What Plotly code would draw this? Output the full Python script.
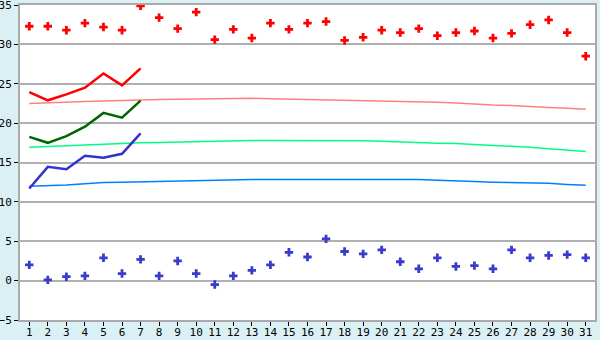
import plotly.graph_objects as go

days = list(range(1, 32))

max_temp = [32.3, 32.3, 31.8, 32.7, 32.2, 31.8, 34.9, 33.4, 32.0, 34.1,
            30.6, 31.9, 30.8, 32.7, 31.9, 32.7, 32.9, 30.5, 30.9, 31.8,
            31.5, 32.0, 31.1, 31.5, 31.7, 30.8, 31.4, 32.5, 33.1, 31.5, 28.5]
min_temp = [2.0, 0.1, 0.5, 0.6, 2.9, 0.9, 2.7, 0.6, 2.5, 0.9,
            -0.5, 0.6, 1.3, 2.0, 3.6, 3.0, 5.3, 3.7, 3.4, 3.9,
            2.4, 1.5, 2.9, 1.8, 1.9, 1.5, 3.9, 2.9, 3.2, 3.3, 2.9]

cur_days = [1, 2, 3, 4, 5, 6, 7]
cur_max = [23.95, 22.9, 23.65, 24.5, 26.3, 24.8, 26.95]
cur_mean = [18.25, 17.5, 18.35, 19.55, 21.3, 20.7, 22.85]
cur_min = [11.7, 14.45, 14.15, 15.85, 15.6, 16.1, 18.7]

norm_max = [22.5, 22.6, 22.65, 22.75, 22.8, 22.9, 22.95, 23.0, 23.0, 23.05,
            23.1, 23.15, 23.15, 23.1, 23.05, 23.0, 23.0, 22.95, 22.9, 22.85,
            22.8, 22.75, 22.65, 22.55, 22.4, 22.3, 22.25, 22.1, 22.0, 21.9, 21.75]
norm_mean = [16.95, 17.05, 17.15, 17.25, 17.35, 17.45, 17.5, 17.55, 17.6, 17.65,
             17.75, 17.8, 17.8, 17.8, 17.8, 17.8, 17.8, 17.8, 17.75, 17.7,
             17.6, 17.55, 17.45, 17.4, 17.25, 17.15, 17.05, 16.95, 16.75, 16.6, 16.4]
norm_min = [12.0, 12.05, 12.15, 12.3, 12.45, 12.5, 12.55, 12.6, 12.7, 12.75,
            12.8, 12.85, 12.85, 12.85, 12.85, 12.85, 12.85, 12.85, 12.85, 12.85,
            12.85, 12.85, 12.75, 12.7, 12.6, 12.5, 12.45, 12.45, 12.35, 12.2, 12.1]

y_ticks = [-5, 0, 5, 10, 15, 20, 25, 30, 35]

fig = go.Figure()
fig.add_trace(go.Scatter(x=days, y=norm_max, mode="lines", line=dict(color="#ff8080", width=1.5)))
fig.add_trace(go.Scatter(x=days, y=norm_mean, mode="lines", line=dict(color="#00ff80", width=1.5)))
fig.add_trace(go.Scatter(x=days, y=norm_min, mode="lines", line=dict(color="#0080ff", width=1.5)))
fig.add_trace(go.Scatter(x=cur_days, y=cur_max, mode="lines", line=dict(color="#ff0000", width=2.5)))
fig.add_trace(go.Scatter(x=cur_days, y=cur_mean, mode="lines", line=dict(color="#006400", width=2.5)))
fig.add_trace(go.Scatter(x=cur_days, y=cur_min, mode="lines", line=dict(color="#3333cc", width=2.5)))
fig.add_trace(go.Scatter(x=days, y=max_temp, mode="markers",
                         marker=dict(symbol="cross", size=7, color="#ff0000", line=dict(width=0))))
fig.add_trace(go.Scatter(x=days, y=min_temp, mode="markers",
                         marker=dict(symbol="cross", size=7, color="#3a3acc", line=dict(width=0))))

fig.update_layout(
    width=600, height=340,
    margin=dict(l=20, r=5, t=5, b=20),
    paper_bgcolor="#daf0f5", plot_bgcolor="#ffffff",
    showlegend=False,
    font=dict(family="DejaVu Sans Mono", size=11, color="#000000"),
)
fig.update_xaxes(range=[0.5, 31.5], tickvals=days, ticktext=[str(d) for d in days],
                 ticks="outside", ticklen=4, tickcolor="#000000", automargin=False,
                 ticklabeloverflow="allow", ticklabelstandoff=-3,
                 showgrid=False, zeroline=False,
                 showline=True, linecolor="#aaaaaa", linewidth=2, mirror=True)
fig.update_yaxes(range=[-5, 35], tickvals=y_ticks, ticks="outside", ticklen=4, tickcolor="#000000",
                 automargin=False, ticklabeloverflow="allow",
                 showgrid=True, gridcolor="#b0b0b0", gridwidth=1.5, zeroline=False,
                 showline=True, linecolor="#aaaaaa", linewidth=2, mirror=True)

fig.write_html("out.html")
